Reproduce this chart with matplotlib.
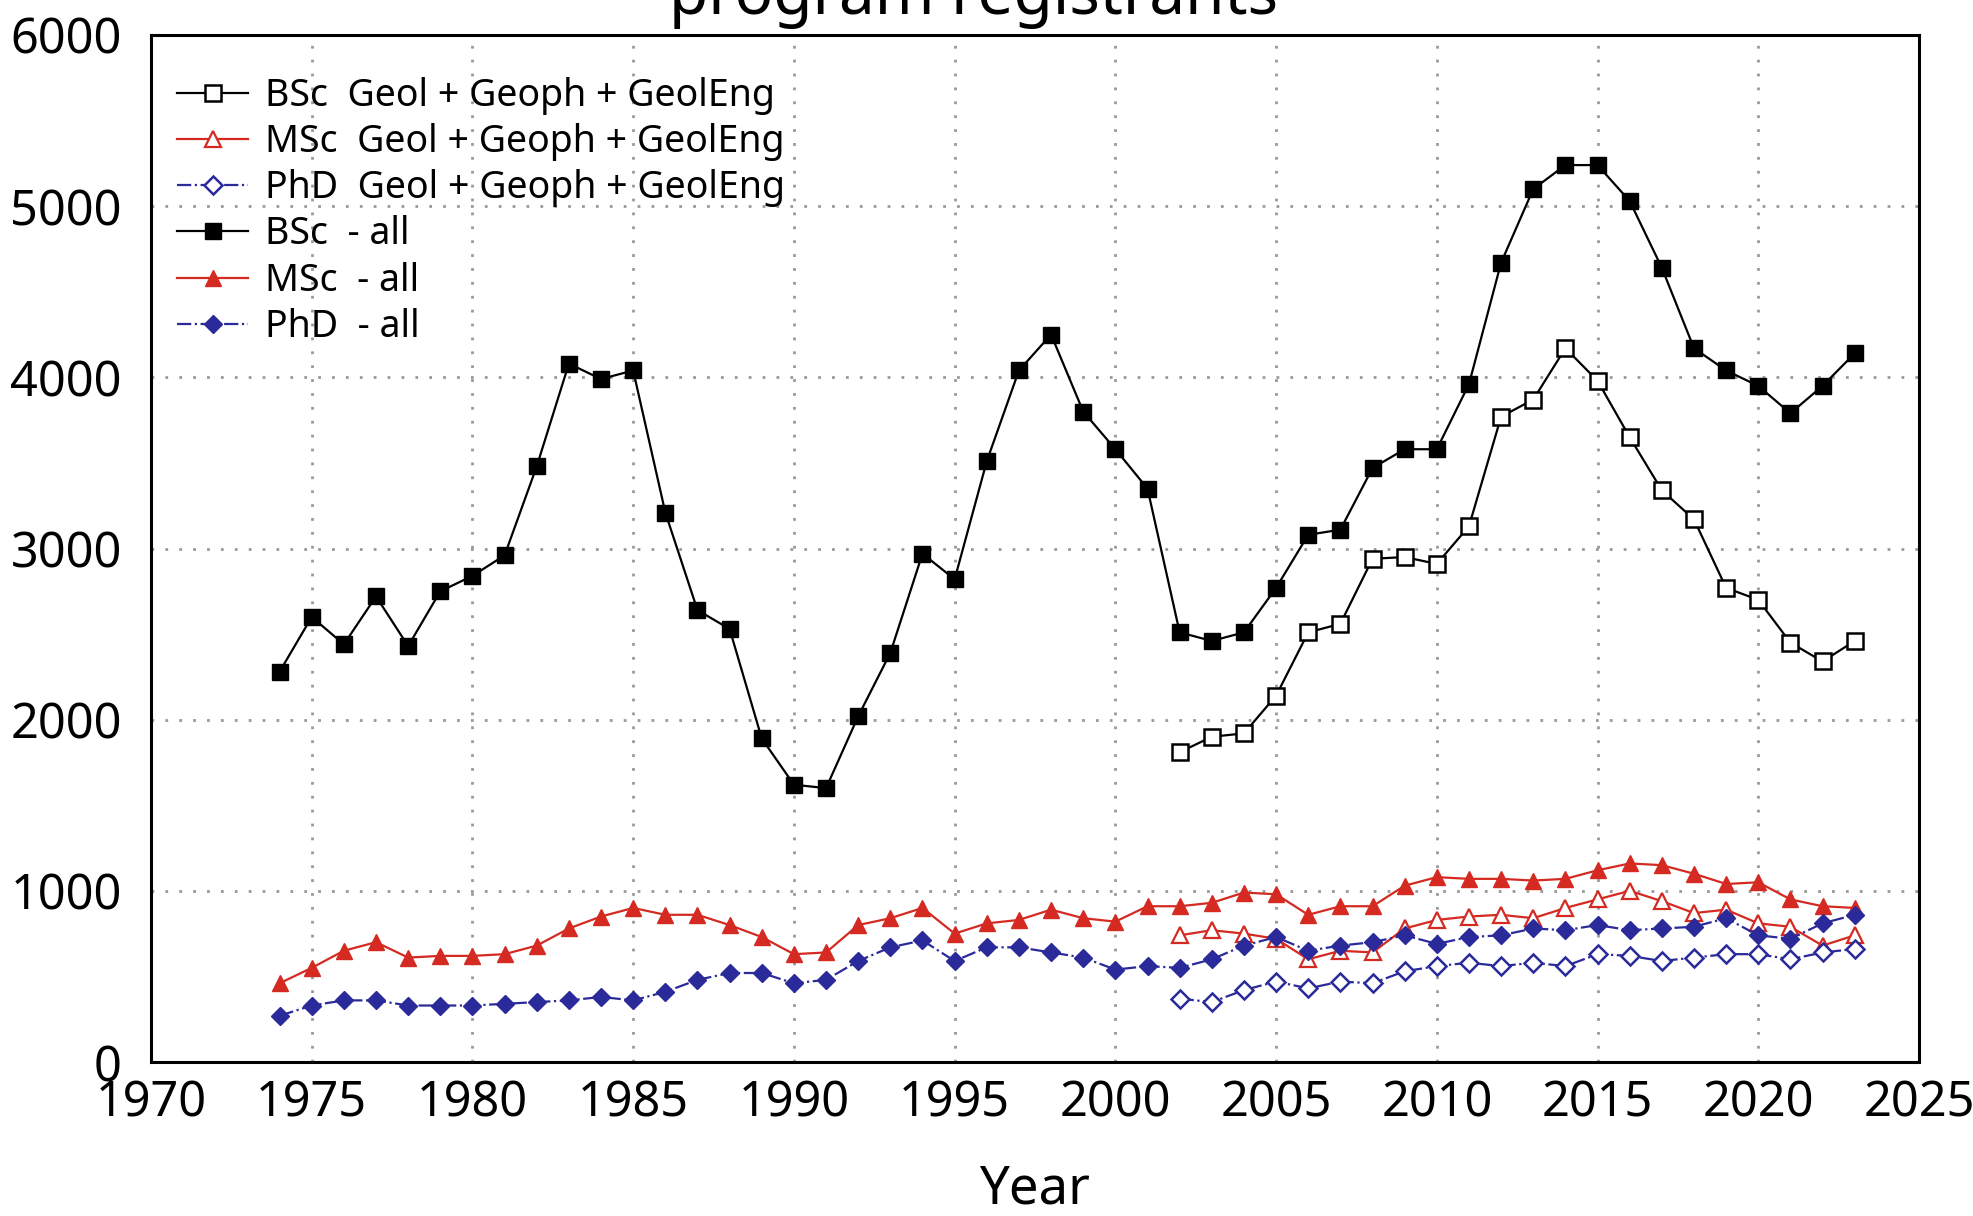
import matplotlib
matplotlib.use("Agg")
import matplotlib.pyplot as plt
import numpy as np

plt.rcParams['font.family'] = ['Noto Sans', 'DejaVu Sans']
plt.rcParams['font.stretch'] = 'condensed'

years_all = list(range(1974, 2024))
years_geo = list(range(2002, 2024))

bsc_all = [2280, 2600, 2440, 2720, 2430, 2750, 2840, 2960, 3480, 4080,
           3990, 4040, 3210, 2640, 2530, 1890, 1620, 1600, 2020, 2390,
           2970, 2820, 3510, 4040, 4250, 3800, 3580, 3350, 2510, 2460,
           2510, 2770, 3080, 3110, 3470, 3580, 3580, 3960, 4670, 5100,
           5240, 5240, 5030, 4640, 4170, 4040, 3950, 3790, 3950, 4140]

msc_all = [460, 550, 650, 700, 610, 620, 620, 630, 680, 780,
           850, 900, 860, 860, 800, 730, 630, 640, 800, 840,
           900, 750, 810, 830, 890, 840, 820, 910, 910, 930,
           990, 980, 860, 910, 910, 1030, 1080, 1070, 1070, 1060,
           1070, 1120, 1160, 1150, 1100, 1040, 1050, 950, 910, 900]

phd_all = [270, 330, 360, 360, 330, 330, 330, 340, 350, 360,
           380, 360, 410, 480, 520, 520, 460, 480, 590, 670,
           710, 590, 670, 670, 640, 610, 540, 560, 550, 600,
           680, 730, 650, 680, 700, 740, 690, 730, 740, 780,
           770, 800, 770, 780, 790, 840, 740, 720, 810, 860]

bsc_geo = [1810, 1900, 1920, 2140, 2510, 2560, 2940, 2950, 2910, 3130,
           3770, 3870, 4170, 3980, 3650, 3340, 3170, 2770, 2700, 2450,
           2340, 2460]

msc_geo = [740, 770, 750, 720, 600, 650, 640, 780, 830, 850,
           860, 840, 900, 950, 1000, 940, 870, 890, 810, 790,
           680, 740]

phd_geo = [370, 350, 420, 470, 430, 470, 460, 530, 560, 580,
           560, 580, 560, 630, 620, 590, 610, 630, 630, 600,
           640, 660]

labels = ["BSc  Geol + Geoph + GeolEng", "MSc  Geol + Geoph + GeolEng",
          "PhD  Geol + Geoph + GeolEng", "BSc  - all", "MSc  - all", "PhD  - all"]

RED = "#d42a22"
BLUE = "#2a2a9a"

fig = plt.figure(figsize=(19.74, 12.16), dpi=100)
ax = fig.add_axes([151/1974, 154/1216, (1919-151)/1974, (1062-35)/1216])

ax.plot(years_geo, bsc_geo, color='black', lw=1.6, marker='s', ms=11,
        mfc='white', mec='black', mew=1.8, label=labels[0], zorder=4)
ax.plot(years_geo, msc_geo, color=RED, lw=1.6, marker='^', ms=12,
        mfc='white', mec=RED, mew=1.6, label=labels[1], zorder=4)
ax.plot(years_geo, phd_geo, color=BLUE, lw=1.6, ls='-.', marker='D', ms=9,
        mfc='white', mec=BLUE, mew=1.8, label=labels[2], zorder=4)
ax.plot(years_all, bsc_all, color='black', lw=1.6, marker='s', ms=11,
        mfc='black', mec='black', label=labels[3], zorder=5)
ax.plot(years_all, msc_all, color=RED, lw=1.6, marker='^', ms=12,
        mfc=RED, mec=RED, label=labels[4], zorder=5)
ax.plot(years_all, phd_all, color=BLUE, lw=1.6, ls='-.', marker='D', ms=9,
        mfc=BLUE, mec=BLUE, label=labels[5], zorder=5)

ax.set_xlim(1970, 2025)
ax.set_ylim(0, 6000)
ax.set_xticks(np.arange(1970, 2026, 5))
ax.set_yticks(np.arange(0, 6001, 1000))
ax.grid(True, color='#999999', ls=(0, (1, 4)), lw=2.0)
ax.tick_params(axis='both', length=0, labelsize=35)
ax.tick_params(axis='x', pad=12)
ax.tick_params(axis='y', pad=21)
for s in ax.spines.values():
    s.set_linewidth(2.2)
    s.set_color('black')

ax.set_xlabel("Year", fontsize=38, va='center')
ax.xaxis.set_label_coords(0.5, (1062 - 1190) / 1027)

leg = ax.legend(loc='upper left', frameon=False, fontsize=27,
                handlelength=1.9, handletextpad=0.45, labelspacing=0.22,
                borderaxespad=0.3, bbox_to_anchor=(0.0, 0.985))

fig.text(0.493, 1 - 14/1216, "program registrants", fontsize=46,
         ha='center', va='baseline')

fig.savefig("out.png", dpi=100)
